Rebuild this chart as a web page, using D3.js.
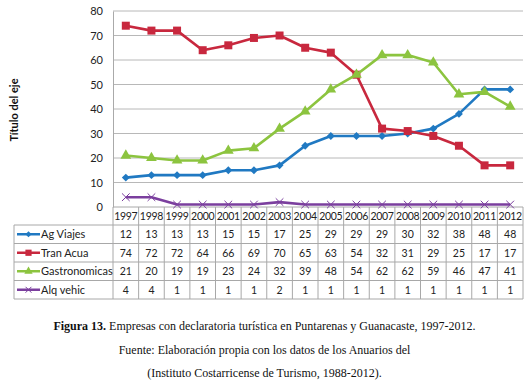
<!DOCTYPE html>
<html>
<head>
<meta charset="utf-8">
<script src="https://cdn.jsdelivr.net/npm/d3@7"></script>
<style>
  body { margin: 0; background: #fff; }
  svg { display: block; }
</style>
</head>
<body>
<div id="chart"></div>
<script>
// data
const years = ["1997","1998","1999","2000","2001","2002","2003","2004","2005","2006","2007","2008","2009","2010","2011","2012"];
const agViajes = [12,13,13,13,15,15,17,25,29,29,29,30,32,38,48,48];
const tranAcua = [74,72,72,64,66,69,70,65,63,54,32,31,29,25,17,17];
const gastronomicas = [21,20,19,19,23,24,32,39,48,54,62,62,59,46,47,41];
const alqVehic = [4,4,1,1,1,1,2,1,1,1,1,1,1,1,1,1];
const yTicks = [0,10,20,30,40,50,60,70,80];
const seriesNames = ["Ag Viajes","Tran Acua","Gastronomicas","Alq vehic"];
const captionLines = [
  ["Figura 13.", " Empresas con declaratoria turística en Puntarenas y Guanacaste, 1997-2012."],
  ["", "Fuente: Elaboración propia con los datos de los Anuarios del"],
  ["", "(Instituto Costarricense de Turismo, 1988-2012)."]
];

const W = 529, H = 381;
const plot = {left: 113, right: 523, top: 11, bottom: 207};
const tableLeft = 14;
const headerBottom = 225;
const rowH = 18.5;
const font = "Lato, 'Open Sans', sans-serif";

const series = [
  {name: seriesNames[0], values: agViajes, color: "#2079c2", symbol: d3.symbolDiamond2, size: 40},
  {name: seriesNames[1], values: tranAcua, color: "#c8283e", symbol: d3.symbolSquare, size: 64},
  {name: seriesNames[2], values: gastronomicas, color: "#8cc43f", symbol: d3.symbolTriangle, size: 50},
  {name: seriesNames[3], values: alqVehic, color: "#7b3f9e", symbol: d3.symbolTimes || d3.symbolX, size: 40, stroke: true}
];

const svg = d3.select("#chart").append("svg")
  .attr("width", W).attr("height", H);

const x = d3.scaleBand().domain(years).range([plot.left, plot.right]);
const y = d3.scaleLinear().domain([0, 80]).range([plot.bottom, plot.top]);

// gridlines
svg.append("g")
  .selectAll("line")
  .data(yTicks.filter(d => d > 0))
  .enter().append("line")
  .attr("x1", plot.left).attr("x2", plot.right)
  .attr("y1", d => y(d)).attr("y2", d => y(d))
  .attr("stroke", "#b8b8b8").attr("stroke-width", 1);

// y axis
svg.append("g")
  .attr("transform", "translate(" + plot.left + ",0)")
  .call(d3.axisLeft(y).tickValues(yTicks).tickSize(0).tickPadding(10))
  .call(g => g.select(".domain").attr("stroke", "#aaa"))
  .call(g => g.selectAll("text")
    .style("font-family", font)
    .style("font-size", "11px")
    .attr("fill", "#222"));

// axis title
svg.append("text")
  .attr("transform", "translate(18," + 110 + ") rotate(-90)")
  .attr("text-anchor", "middle")
  .style("font-family", font)
  .style("font-size", "11px")
  .style("font-weight", "bold")
  .attr("fill", "#111")
  .text("Título del eje");

// data table
const rowTop = i => headerBottom + i * rowH;
const tableBottom = rowTop(series.length);
const table = svg.append("g").attr("class", "table");
const borderColor = "#a8a8a8";

// horizontal lines
table.append("line")
  .attr("x1", plot.left).attr("x2", plot.right)
  .attr("y1", plot.bottom).attr("y2", plot.bottom)
  .attr("stroke", borderColor);
table.selectAll(".hline")
  .data(d3.range(series.length + 1))
  .enter().append("line")
  .attr("x1", tableLeft).attr("x2", plot.right)
  .attr("y1", d => rowTop(d)).attr("y2", d => rowTop(d))
  .attr("stroke", borderColor);
// vertical lines
table.selectAll(".vline")
  .data(years.map(d => x(d)).concat([plot.right]))
  .enter().append("line")
  .attr("x1", d => d).attr("x2", d => d)
  .attr("y1", plot.bottom).attr("y2", tableBottom)
  .attr("stroke", borderColor);
table.append("line")
  .attr("x1", tableLeft).attr("x2", tableLeft)
  .attr("y1", headerBottom).attr("y2", tableBottom)
  .attr("stroke", borderColor);

// header years
table.selectAll(".year")
  .data(years)
  .enter().append("text")
  .attr("x", d => x(d) + x.bandwidth() / 2)
  .attr("y", (plot.bottom + headerBottom) / 2 + 4)
  .attr("text-anchor", "middle")
  .style("font-family", font)
  .style("font-size", "10.5px")
  .style("letter-spacing", "-0.3px")
  .attr("fill", "#222")
  .text(d => d);

// rows
series.forEach(function (s, i) {
  let cy = rowTop(i) + rowH / 2;
  let row = table.append("g");
  row.selectAll("text.val")
    .data(s.values)
    .enter().append("text")
    .attr("x", (d, j) => x(years[j]) + x.bandwidth() / 2)
    .attr("y", cy + 4)
    .attr("text-anchor", "middle")
    .style("font-family", font)
    .style("font-size", "10.5px")
    .attr("fill", "#222")
    .text(d => d);
  // legend key
  row.append("line")
    .attr("x1", 17).attr("x2", 40)
    .attr("y1", cy).attr("y2", cy)
    .attr("stroke", s.color).attr("stroke-width", 2.5);
  let key = row.append("path")
    .attr("transform", "translate(28.5," + cy + ")")
    .attr("d", d3.symbol().type(s.symbol).size(s.size * 0.6)());
  if (s.stroke) key.attr("fill", "none").attr("stroke", s.color).attr("stroke-width", 1);
  else key.attr("fill", s.color);
  row.append("text")
    .attr("x", 41)
    .attr("y", cy + 4)
    .style("font-family", font)
    .style("font-size", "11px")
    .attr("fill", "#222")
    .text(s.name);
});

// lines
const line = d3.line()
  .x((d, j) => x(years[j]) + x.bandwidth() / 2)
  .y(d => y(d));

series.forEach(function (s) {
  svg.append("path")
    .datum(s.values)
    .attr("d", line)
    .attr("fill", "none")
    .attr("stroke", s.color)
    .attr("stroke-width", 2.6)
    .attr("stroke-linejoin", "round");
  let marks = svg.append("g").selectAll("path")
    .data(s.values)
    .enter().append("path")
    .attr("transform", (d, j) => "translate(" + (x(years[j]) + x.bandwidth() / 2) + "," + y(d) + ")")
    .attr("d", d3.symbol().type(s.symbol).size(s.size)());
  if (s.stroke) marks.attr("fill", "none").attr("stroke", s.color).attr("stroke-width", 1);
  else marks.attr("fill", s.color);
});

// caption
const cap = svg.append("g")
  .style("font-family", "'Liberation Serif', 'Times New Roman', serif")
  .style("font-size", "12px")
  .attr("fill", "#111");
captionLines.forEach(function (parts, i) {
  let t = cap.append("text")
    .attr("x", W / 2)
    .attr("y", 330 + i * 23.5)
    .attr("text-anchor", "middle");
  if (parts[0]) t.append("tspan").style("font-weight", "bold").text(parts[0]);
  t.append("tspan").text(parts[1]);
});
</script>
</body>
</html>
